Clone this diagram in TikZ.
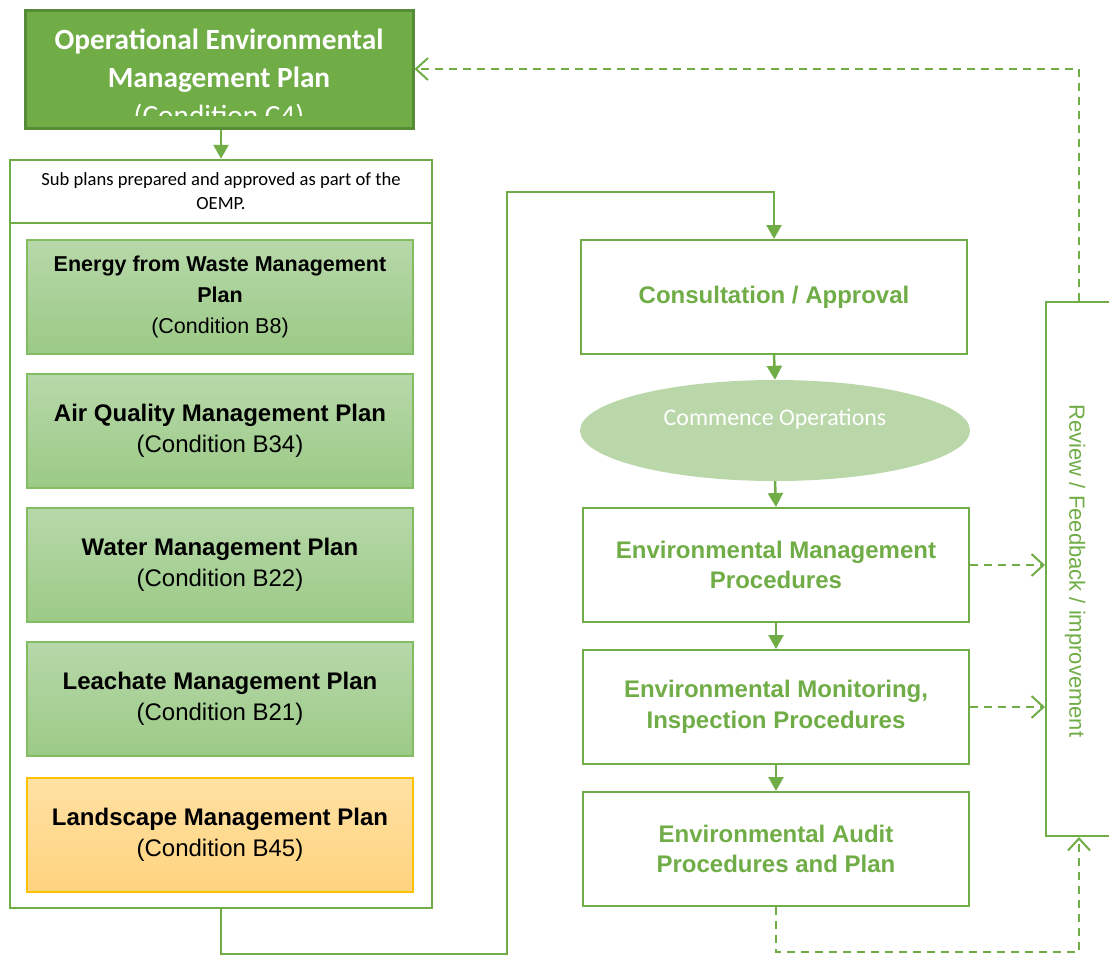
\documentclass[tikz,border=0pt]{standalone}
\usepackage{fontspec}
\setmainfont{Liberation Sans}
\newfontfamily\calibri{Carlito}
\usetikzlibrary{arrows.meta,shapes.geometric}

\definecolor{oempgreen}{HTML}{70AD47}
\definecolor{oempedge}{HTML}{568C37}
\definecolor{linegreen}{HTML}{70AD47}
\definecolor{plantop}{HTML}{B7D8A9}
\definecolor{planbot}{HTML}{9BCA86}
\definecolor{planedge}{HTML}{84BC62}
\definecolor{landtop}{HTML}{FFE1A3}
\definecolor{landbot}{HTML}{FFD37E}
\definecolor{landedge}{HTML}{FFC000}
\definecolor{opsfill}{HTML}{B9D7A8}

\tikzset{
  planfont/.style={font=\fontsize{24}{30.5}\selectfont},
  flow/.style={draw=linegreen, line width=2.5pt, -{Triangle[width=15pt,length=14pt]}},
  feedback/.style={draw=linegreen, line width=2pt, dash pattern=on 8pt off 6pt},
  fbarrow/.style={feedback, -{Straight Barb[length=12pt,width=22pt,line width=2pt]}},
  plangreen/.style={planfont, top color=plantop, bottom color=planbot, draw=planedge,
    line width=1.2pt, minimum width=386pt, minimum height=114pt, inner sep=0pt, align=center},
  planorange/.style={plangreen, top color=landtop, bottom color=landbot, draw=landedge},
  procbox/.style={planfont, draw=linegreen, line width=2pt, fill=white, text=linegreen,
    minimum width=386pt, minimum height=114pt, inner sep=0pt, align=center}
}

\begin{document}
\begin{tikzpicture}[x=1pt,y=-1pt]
  \useasboundingbox (0,0) rectangle (1109,956);
  \clip (0,0) rectangle (1109,956);

  % OEMP box, its last line cut off by the box
  \node[fill=oempgreen, draw=oempedge, line width=3pt, minimum width=388pt,
    minimum height=118pt, inner sep=0pt] (oemp) at (219,69) {};
  \begin{scope}
    \clip (27,12) rectangle (411,115);
    \node[text=white, align=center, font=\calibri\fontsize{29.3}{38}\selectfont]
      (oemptitle) at (219,79)
      {{\bfseries Operational Environmental}\\{\bfseries Management Plan}\\(Condition C4)};
  \end{scope}

  % sub plans
  \node[draw=linegreen, line width=2.5pt, fill=white, minimum width=422pt, minimum height=63pt,
    inner sep=0pt, align=center, font=\calibri\fontsize{18.6}{24}\selectfont]
    (subhead) at (221,191.5) {Sub plans prepared and approved as part of the\\OEMP.};
  \node[draw=linegreen, line width=2.5pt, minimum width=422pt, minimum height=685pt,
    inner sep=0pt] (subbody) at (221,565.5) {};

  \node[plangreen, font=\fontsize{21.5}{31}\selectfont] (energy) at (220,297)
    {\bfseries Energy from Waste Management\\\bfseries Plan\\(Condition B8)};
  \node[plangreen] (airq) at (220,431) {\bfseries Air Quality Management Plan\\(Condition B34)};
  \node[plangreen] (water) at (220,565) {\bfseries Water Management Plan\\(Condition B22)};
  \node[plangreen] (leach) at (220,699) {\bfseries Leachate Management Plan\\(Condition B21)};
  \node[planorange] (landsc) at (220,835) {\bfseries Landscape Management Plan\\(Condition B45)};

  % procedure column
  \node[procbox] (consult) at (774,297) {\bfseries Consultation / Approval};
  \node[ellipse, fill=opsfill, minimum width=390pt, minimum height=101pt, inner sep=0pt]
    (ops) at (775,430.5) {};
  \node[text=white, font=\calibri\fontsize{23.9}{30}\selectfont] (opslabel) at (775,419)
    {Commence Operations};
  \node[procbox] (emp) at (776,565) {\bfseries Environmental Management\\\bfseries Procedures};
  \node[procbox] (monitor) at (776,707) {\bfseries Environmental Monitoring,\\\bfseries Inspection Procedures};
  \node[procbox] (audit) at (776,849) {\bfseries Environmental Audit\\\bfseries Procedures and Plan};

  % review column
  \node[draw=linegreen, line width=2pt, fill=white, minimum width=88pt, minimum height=534pt,
    inner sep=0pt] (review) at (1090,569) {};
  \node[rotate=-90, text=linegreen, font=\fontsize{22}{26}\selectfont] (reviewtext) at (1075,571)
    {Review / Feedback / improvement};

  \coordinate (loopa) at (507,954);
  \coordinate (loopb) at (507,192);
  \coordinate (fbcorner) at (1079,952);

  \draw[flow] (oemp.south -| subhead.north) -- (subhead.north);
  \draw[flow] (subbody.south) |- (loopa) -- (loopb) -| (consult.north);
  \draw[flow] (consult.south) -- (ops.north);
  \draw[flow] (ops.south) -- (emp.north);
  \draw[flow] (emp.south) -- (monitor.north);
  \draw[flow] (monitor.south) -- (audit.north);

  \draw[fbarrow] (emp.east) -- (emp.east -| review.west);
  \draw[fbarrow] (monitor.east) -- (monitor.east -| review.west);
  \draw[fbarrow] (audit.south) |- (fbcorner) -- (fbcorner |- review.south);
  \draw[fbarrow] (fbcorner |- review.north) |- (oemp.east);
\end{tikzpicture}
\end{document}
